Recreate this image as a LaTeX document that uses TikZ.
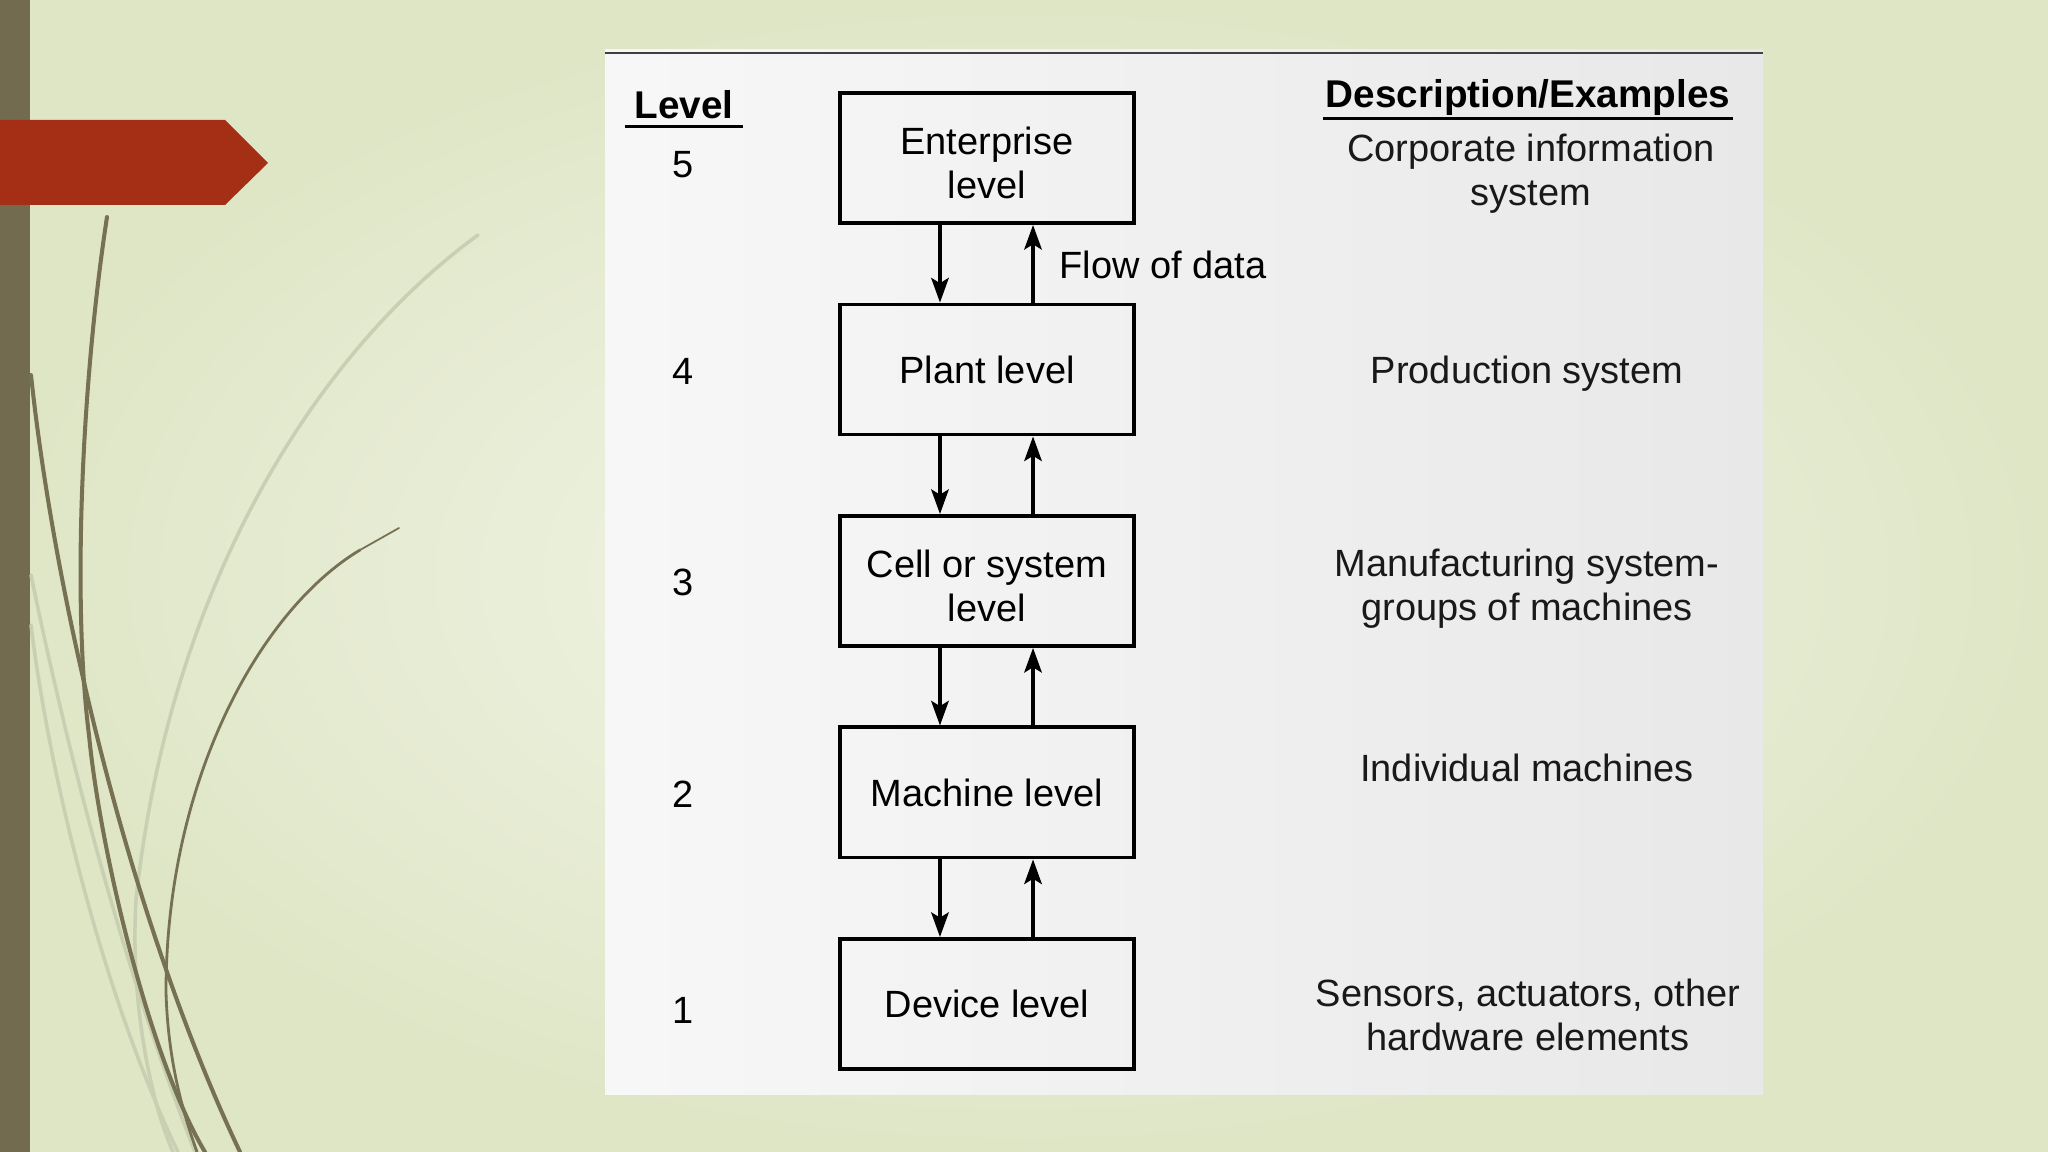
\documentclass[tikz,border=0pt]{standalone}
\usepackage{fontspec}
\setmainfont{Liberation Sans}
\usepackage{xcolor}
\usepackage{tikz}
\usetikzlibrary{arrows}
\usetikzlibrary{arrows.meta}
\usetikzlibrary{positioning}
\definecolor{slide_bg}{HTML}{DFE6C6}
\definecolor{slide_light}{HTML}{F3F6EA}
\definecolor{bar_olive}{HTML}{736B50}
\definecolor{tag_red}{HTML}{A52F14}
\definecolor{swoosh_dark}{HTML}{777153}
\definecolor{swoosh_light}{HTML}{C8CFB2}
\newcommand{\lowstrut}{\rule{0pt}{10.8pt}}
\tikzset{
    tnode/.style = {align=center, inner sep=0pt, text centered, font=\fontsize{10.8}{12.6}\selectfont},
    level_box/.style = {tnode, rectangle, draw=black, line width=1.1pt, minimum width=2.93cm, minimum height=1.3cm},
    num_node/.style = {tnode},
    desc_node/.style = {tnode, text=black!90},
    head_node/.style = {tnode, font=\fontsize{11}{13}\selectfont\bfseries}
}
\tikzset{
    swoosh/.style = {swoosh_dark, line width=1.15pt, line cap=round},
    faint_swoosh/.style = {swoosh_light, line width=1pt, line cap=round},
    flow/.style = {-{Stealth[length=7pt, width=5pt, inset=1.5pt]}, line width=0.9pt}
}

\begin{document}
\begin{tikzpicture}[x=0.01cm, y=-0.01cm]
    \useasboundingbox (0,0) rectangle (2048,1152);
    % slide background
    \shade[inner color=slide_light, outer color=slide_bg] (0,0) rectangle (2048,1152);
    \fill[bar_olive] (0,0) rectangle (30,1152);
    \draw[faint_swoosh] (478,235) .. controls (320,350) and (170,580) .. (136,900) .. controls (130,1000) and (150,1100) .. (173,1152);
    \draw[faint_swoosh] (31,575) .. controls (65,740) and (120,960) .. (195,1152);
    \draw[faint_swoosh] (31,625) .. controls (50,780) and (105,1000) .. (178,1152);
    \draw[swoosh] (107,217) .. controls (82,380) and (72,600) .. (89,735) .. controls (100,850) and (150,1060) .. (205,1152);
    \draw[swoosh] (31,375) .. controls (55,600) and (130,920) .. (240,1152);
    \draw[swoosh, line width=0.5pt] (399,528) -- (360,550);
    \draw[swoosh, line width=0.8pt] (360,550) .. controls (260,610) and (166,780) .. (166,992) .. controls (168,1060) and (182,1110) .. (197,1152);
    \fill[tag_red] (0,120) -- (225,120) -- (268,163) -- (225,205) -- (0,205) -- cycle;

    % scanned figure
    \shade[left color=white!97!black, right color=white!91!black] (605,50) rectangle (1763,1094);
    \draw[black!75, line width=0.7pt] (605,53) -- (1763,53);

    \node[level_box] (ent) at (987,158) {\lowstrut Enterprise\\level};
    \node[level_box, below=0.775cm of ent] (plant) {Plant level};
    \node[level_box, below=0.775cm of plant] (cell) {\lowstrut Cell or system\\level};
    \node[level_box, below=0.775cm of cell] (machine) {Machine level};
    \node[level_box, below=0.775cm of machine] (device) {Device level};

    \foreach \hi/\lo in {ent/plant, plant/cell, cell/machine, machine/device} {
        \draw[flow] ([xshift=-0.47cm]\hi.south) -- ([xshift=-0.47cm]\lo.north);
        \draw[flow] ([xshift=0.46cm]\lo.north) -- ([xshift=0.46cm]\hi.south);
    }
    \node[tnode, anchor=west] (flow_lbl) at (1059,265) {Flow of data};

    \node[head_node, inner xsep=0.09cm, inner ysep=0.07cm] (lvl_head) at (684,105) {Level};
    \draw[line width=0.8pt] (lvl_head.south west) -- (lvl_head.south east);
    \node[num_node] (num5) at (683,165) {5};
    \node[num_node] (num4) at (683,371) {4};
    \node[num_node] (num3) at (683,582) {3};
    \node[num_node] (num2) at (683,794) {2};
    \node[num_node] (num1) at (683,1010) {1};

    \node[head_node, inner xsep=0.02cm, inner ysep=0.02cm] (desc_head) at (1528,98) {Description/Examples};
    \draw[line width=0.8pt] (desc_head.south west) -- (desc_head.south east);
    \node[desc_node] (desc5) at (1531,174) {Corporate information\\system};
    \node[desc_node] (desc4) at (1527,374) {Production system};
    \node[desc_node] (desc3) at (1527,589) {Manufacturing system-\\groups of machines};
    \node[desc_node] (desc2) at (1527,768) {Individual machines};
    \node[desc_node] (desc1) at (1528,1015) {Sensors, actuators, other\\hardware elements};
\end{tikzpicture}
\end{document}
